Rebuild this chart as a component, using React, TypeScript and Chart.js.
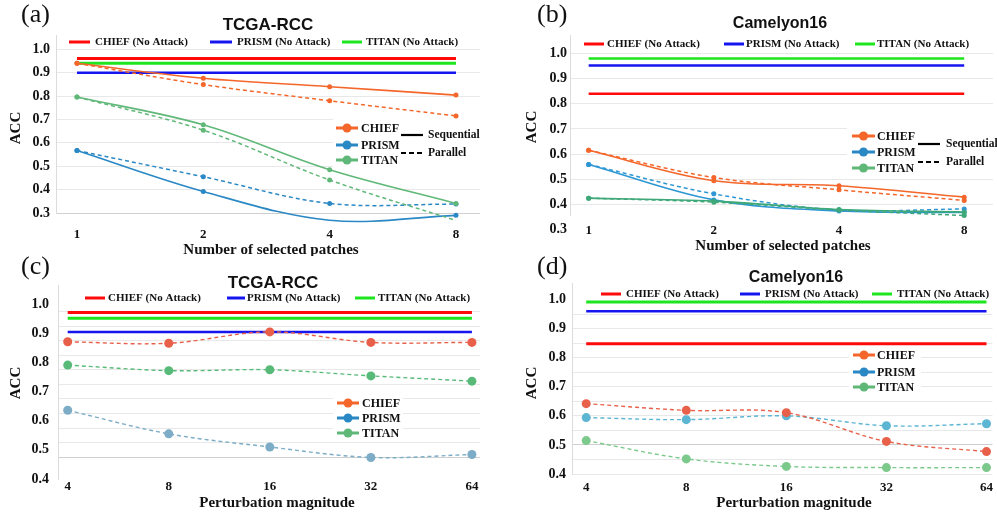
import React, { useEffect, useRef } from 'react';
import { Chart, registerables } from 'chart.js';

Chart.register(...registerables);

const SERIF = '"Liberation Serif", "Times New Roman", serif';
const SANS = '"Liberation Sans", Arial, sans-serif';

// ---------- categories / tick labels ----------
const patchCounts = ['1', '2', '4', '8'];
const perturbMagnitudes = ['4', '8', '16', '32', '64'];
const accLabelsTop = [0.3, 0.4, 0.5, 0.6, 0.7, 0.8, 0.9, 1.0];
const accLabelsBottom = [0.4, 0.5, 0.6, 0.7, 0.8, 0.9, 1.0];
const gridA = [0.3, 0.4, 0.5, 0.6, 0.7, 0.8, 0.9, 1.0];
const gridB = [0.4, 0.5, 0.6, 0.7, 0.8, 0.9, 1.0];
const gridC = [0.475, 0.525, 0.575, 0.625, 0.675, 0.725, 0.775, 0.825, 0.875, 0.925, 0.975];
const gridD = [0.4, 0.45, 0.5, 0.55, 0.6, 0.65, 0.7, 0.75, 0.8, 0.85, 0.9, 0.95];

// ---------- (a) TCGA-RCC, number of selected patches ----------
const rccCleanChief = 0.96;
const rccCleanPrism = 0.9;
const rccCleanTitan = 0.94;
const rccSeqChief = [0.94, 0.876, 0.84, 0.804];
const rccParChief = [0.94, 0.849, 0.78, 0.715];
const rccSeqPrism = [0.567, 0.392, 0.269, 0.29];
const rccParPrism = [0.567, 0.455, 0.341, 0.338];
const rccSeqTitan = [0.796, 0.677, 0.485, 0.341];
const rccParTitan = [0.796, 0.654, 0.441, 0.268];

// ---------- (b) Camelyon16, number of selected patches ----------
const camCleanChief = 0.84;
const camCleanPrism = 0.952;
const camCleanTitan = 0.98;
const camSeqChief = [0.615, 0.494, 0.474, 0.429];
const camParChief = [0.615, 0.507, 0.458, 0.416];
const camSeqPrism = [0.559, 0.418, 0.374, 0.368];
const camParPrism = [0.559, 0.442, 0.378, 0.382];
const camSeqTitan = [0.425, 0.413, 0.38, 0.37];
const camParTitan = [0.425, 0.409, 0.378, 0.356];

// ---------- (c) TCGA-RCC, perturbation magnitude ----------
const rccPertCleanChief = 0.972;
const rccPertCleanPrism = 0.905;
const rccPertCleanTitan = 0.952;
const rccPertChief = [0.871, 0.866, 0.905, 0.869, 0.869];
const rccPertPrism = [0.636, 0.555, 0.51, 0.474, 0.484];
const rccPertTitan = [0.791, 0.772, 0.775, 0.754, 0.736];

// ---------- (d) Camelyon16, perturbation magnitude ----------
const camPertCleanChief = 0.848;
const camPertCleanPrism = 0.96;
const camPertCleanTitan = 0.992;
const camPertChief = [0.642, 0.619, 0.611, 0.512, 0.477];
const camPertPrism = [0.594, 0.587, 0.6, 0.566, 0.573];
const camPertTitan = [0.515, 0.452, 0.426, 0.422, 0.422];

// ---------- colours ----------
const C_CHIEF = '#F4662A';
const C_PRISM = '#2A88C4';
const C_TITAN = '#60B878';
const C_RED = '#FF0A0A';
const C_BLUE = '#1515F0';
const C_GREEN = '#1EE61E';

type Series = { values: number[]; color: string; dashed: boolean; width: number; radius: number };
type Clean = { value: number; color: string; width: number };
type Decor = {
  tag: { text: string; x: number; y: number };
  title: { text: string; x: number; y: number; size: number };
  xTitle: { text: string; x: number; y: number };
  yTitle: { x: number; y: number };
  top: { y: number; items: { x1: number; x2: number; tx: number; color: string; text: string }[] };
  inset: { x1: number; x2: number; tx: number; rows: { y: number; text: string; color: string }[] };
  style?: { x1: number; x2: number; tx: number; ySeq: number; yPar: number };
  box: { x: number; y: number; w: number; h: number };
};
type Panel = {
  key: string; left: number; top: number; width: number; height: number;
  categories: string[]; xMin: number; xMax: number; yMin: number; yMax: number;
  yLabels: number[]; grid: number[]; darkGrid: number;
  series: Series[]; clean: Clean[];
  yAxisWidth: number; xAxisHeight: number; padRight: number; padTop: number;
  xTickPad: number; yTickPad: number; decor: Decor;
};

const near = (a: number, b: number) => Math.abs(a - b) < 1e-6;

function topItems(pos: number[][], values: string[]) {
  const colors = [C_RED, C_BLUE, C_GREEN];
  return pos.map((p, i) => ({ x1: p[0], x2: p[1], tx: p[2], color: colors[i], text: values[i] }));
}
const topTexts = ['CHIEF (No Attack)', 'PRISM (No Attack)', 'TITAN (No Attack)'];
const insetRows = (ys: number[]) => [
  { y: ys[0], text: 'CHIEF', color: C_CHIEF },
  { y: ys[1], text: 'PRISM', color: C_PRISM },
  { y: ys[2], text: 'TITAN', color: C_TITAN },
];

const panels: Panel[] = [
  {
    key: 'a', left: 0, top: 0, width: 497, height: 256,
    categories: patchCounts, xMin: -0.166, xMax: 3.19, yMin: 0.3, yMax: 1.061,
    yLabels: accLabelsTop, grid: gridA, darkGrid: 0.3,
    series: [
      { values: rccSeqChief, color: C_CHIEF, dashed: false, width: 1.6, radius: 2.5 },
      { values: rccParChief, color: C_CHIEF, dashed: true, width: 1.5, radius: 2.5 },
      { values: rccSeqTitan, color: C_TITAN, dashed: false, width: 1.6, radius: 2.5 },
      { values: rccParTitan, color: C_TITAN, dashed: true, width: 1.5, radius: 2.5 },
      { values: rccSeqPrism, color: C_PRISM, dashed: false, width: 1.6, radius: 2.5 },
      { values: rccParPrism, color: C_PRISM, dashed: true, width: 1.5, radius: 2.5 },
    ],
    clean: [
      { value: rccCleanChief, color: C_RED, width: 3 },
      { value: rccCleanTitan, color: C_GREEN, width: 3 },
      { value: rccCleanPrism, color: C_BLUE, width: 2.5 },
    ],
    yAxisWidth: 56, xAxisHeight: 43, padRight: 17, padTop: 35, xTickPad: 6, yTickPad: 6,
    decor: {
      tag: { text: '(a)', x: 21, y: 15 },
      title: { text: 'TCGA-RCC', x: 268, y: 25, size: 17 },
      xTitle: { text: 'Number of selected patches', x: 271, y: 250 },
      yTitle: { x: 16, y: 128 },
      top: { y: 42, items: topItems([[69, 90, 95], [210, 232, 237], [342, 362, 366]], topTexts) },
      inset: { x1: 336, x2: 358, tx: 361, rows: insetRows([128, 145, 160]) },
      style: { x1: 401, x2: 423, tx: 428, ySeq: 135, yPar: 153 },
      box: { x: 333, y: 117, w: 147, h: 50 },
    },
  },
  {
    key: 'b', left: 497, top: 0, width: 500, height: 256,
    categories: patchCounts, xMin: -0.149, xMax: 3.23, yMin: 0.358, yMax: 1.073,
    yLabels: accLabelsTop, grid: gridB, darkGrid: -1,
    series: [
      { values: camSeqChief, color: C_CHIEF, dashed: false, width: 1.6, radius: 2.5 },
      { values: camParChief, color: C_CHIEF, dashed: true, width: 1.5, radius: 2.5 },
      { values: camSeqTitan, color: '#3FA878', dashed: false, width: 1.6, radius: 2.5 },
      { values: camParTitan, color: '#3FA878', dashed: true, width: 1.5, radius: 2.5 },
      { values: camSeqPrism, color: '#2C97D4', dashed: false, width: 1.6, radius: 2.5 },
      { values: camParPrism, color: '#2C97D4', dashed: true, width: 1.5, radius: 2.5 },
    ],
    clean: [
      { value: camCleanChief, color: C_RED, width: 2.5 },
      { value: camCleanTitan, color: C_GREEN, width: 2.5 },
      { value: camCleanPrism, color: C_BLUE, width: 2.5 },
    ],
    yAxisWidth: 73, xAxisHeight: 41, padRight: 1, padTop: 35, xTickPad: 0, yTickPad: 3,
    decor: {
      tag: { text: '(b)', x: 40, y: 15 },
      title: { text: 'Camelyon16', x: 283, y: 24, size: 16 },
      xTitle: { text: 'Number of selected patches', x: 286, y: 246 },
      yTitle: { x: 35, y: 127 },
      top: { y: 44, items: topItems([[87, 107, 110], [227, 247, 249], [358, 378, 380]], topTexts) },
      inset: { x1: 355, x2: 378, tx: 380, rows: insetRows([136, 152, 168]) },
      style: { x1: 421, x2: 443, tx: 449, ySeq: 144, yPar: 162 },
      box: { x: 350, y: 124, w: 150, h: 50 },
    },
  },
  {
    key: 'c', left: 0, top: 256, width: 497, height: 256,
    categories: perturbMagnitudes, xMin: -0.096, xMax: 4.08, yMin: 0.4, yMax: 1.066,
    yLabels: accLabelsBottom, grid: gridC, darkGrid: 0.475,
    series: [
      { values: rccPertChief, color: '#E8604A', dashed: true, width: 1.4, radius: 4.5 },
      { values: rccPertTitan, color: '#58BA78', dashed: true, width: 1.4, radius: 4.5 },
      { values: rccPertPrism, color: '#7CACC6', dashed: true, width: 1.4, radius: 4.5 },
    ],
    clean: [
      { value: rccPertCleanChief, color: C_RED, width: 3 },
      { value: rccPertCleanTitan, color: C_GREEN, width: 3 },
      { value: rccPertCleanPrism, color: C_BLUE, width: 2.5 },
    ],
    yAxisWidth: 58, xAxisHeight: 33, padRight: 17, padTop: 29, xTickPad: -8, yTickPad: 9,
    decor: {
      tag: { text: '(c)', x: 21, y: 11 },
      title: { text: 'TCGA-RCC', x: 273, y: 27, size: 17 },
      xTitle: { text: 'Perturbation magnitude', x: 277, y: 247 },
      yTitle: { x: 16, y: 127 },
      top: { y: 42, items: topItems([[85, 105, 108], [227, 245, 247], [355, 375, 378]], topTexts) },
      inset: { x1: 337, x2: 359, tx: 362, rows: insetRows([147, 162, 177]) },
      box: { x: 333, y: 136, w: 70, h: 50 },
    },
  },
  {
    key: 'd', left: 497, top: 256, width: 500, height: 256,
    categories: perturbMagnitudes, xMin: -0.142, xMax: 4.06, yMin: 0.4, yMax: 1.057,
    yLabels: accLabelsBottom, grid: gridD, darkGrid: 0.5,
    series: [
      { values: camPertChief, color: '#E8604A', dashed: true, width: 1.4, radius: 4.5 },
      { values: camPertPrism, color: '#5CB5D3', dashed: true, width: 1.4, radius: 4.5 },
      { values: camPertTitan, color: '#7CC98C', dashed: true, width: 1.4, radius: 4.5 },
    ],
    clean: [
      { value: camPertCleanChief, color: C_RED, width: 3 },
      { value: camPertCleanTitan, color: C_GREEN, width: 3 },
      { value: camPertCleanPrism, color: C_BLUE, width: 2.5 },
    ],
    yAxisWidth: 75, xAxisHeight: 38, padRight: 1, padTop: 27, xTickPad: -2, yTickPad: 6,
    decor: {
      tag: { text: '(d)', x: 40, y: 11 },
      title: { text: 'Camelyon16', x: 299, y: 22, size: 16 },
      xTitle: { text: 'Perturbation magnitude', x: 297, y: 247 },
      yTitle: { x: 35, y: 127 },
      top: { y: 38, items: topItems([[104, 124, 129], [243, 263, 268], [375, 395, 400]], topTexts) },
      inset: { x1: 356, x2: 378, tx: 380, rows: insetRows([99, 116, 131]) },
      box: { x: 352, y: 88, w: 72, h: 52 },
    },
  },
];

function text(ctx: CanvasRenderingContext2D, s: string, x: number, y: number, font: string, align: CanvasTextAlign = 'left') {
  ctx.save();
  ctx.font = font;
  ctx.fillStyle = '#111';
  ctx.textAlign = align;
  ctx.textBaseline = 'middle';
  ctx.fillText(s, x, y);
  ctx.restore();
}

function line(ctx: CanvasRenderingContext2D, x1: number, x2: number, y: number, color: string, w: number, dash: number[] = []) {
  ctx.save();
  ctx.strokeStyle = color;
  ctx.lineWidth = w;
  ctx.setLineDash(dash);
  ctx.beginPath();
  ctx.moveTo(x1, y);
  ctx.lineTo(x2, y);
  ctx.stroke();
  ctx.restore();
}

function decorPlugin(d: Decor) {
  return {
    id: 'decor',
    beforeDatasetsDraw(chart: any) {
      const ctx = chart.ctx as CanvasRenderingContext2D;
      ctx.save();
      ctx.fillStyle = '#ffffff';
      ctx.fillRect(d.box.x, d.box.y, d.box.w, d.box.h);
      ctx.restore();
    },
    afterDraw(chart: any) {
      const ctx = chart.ctx as CanvasRenderingContext2D;
      text(ctx, d.tag.text, d.tag.x, d.tag.y, `26px ${SERIF}`);
      text(ctx, d.title.text, d.title.x, d.title.y, `bold ${d.title.size}px ${SANS}`, 'center');
      text(ctx, d.xTitle.text, d.xTitle.x, d.xTitle.y, `bold 15px ${SERIF}`, 'center');
      ctx.save();
      ctx.translate(d.yTitle.x, d.yTitle.y);
      ctx.rotate(-Math.PI / 2);
      text(ctx, 'ACC', 0, 0, `bold 15px ${SERIF}`, 'center');
      ctx.restore();
      for (const it of d.top.items) {
        line(ctx, it.x1, it.x2, d.top.y, it.color, 3);
        text(ctx, it.text, it.tx, d.top.y + 0.5, `bold 11px ${SERIF}`);
      }
      for (const r of d.inset.rows) {
        line(ctx, d.inset.x1, d.inset.x2, r.y, r.color, 3);
        ctx.save();
        ctx.fillStyle = r.color;
        ctx.beginPath();
        ctx.arc((d.inset.x1 + d.inset.x2) / 2, r.y, 4.5, 0, Math.PI * 2);
        ctx.fill();
        ctx.restore();
        text(ctx, r.text, d.inset.tx, r.y + 0.5, `bold 12px ${SERIF}`);
      }
      if (d.style) {
        line(ctx, d.style.x1, d.style.x2, d.style.ySeq, '#000', 2.2);
        line(ctx, d.style.x1, d.style.x2, d.style.yPar, '#000', 2.2, [5, 3]);
        text(ctx, 'Sequential', d.style.tx, d.style.ySeq + 0.5, `bold 11.5px ${SERIF}`);
        text(ctx, 'Parallel', d.style.tx, d.style.yPar + 0.5, `bold 11.5px ${SERIF}`);
      }
    },
  };
}

function PanelChart({ p }: { p: Panel }) {
  const ref = useRef<HTMLCanvasElement>(null);
  useEffect(() => {
    if (!ref.current) return;
    const n = p.categories.length;
    const tickValues = Array.from(new Set([...p.yLabels, ...p.grid].map((v) => Math.round(v * 1000) / 1000))).sort((a, b) => a - b);
    const datasets: any[] = [
      ...p.series.map((s) => ({
        data: s.values.map((y, i) => ({ x: i, y })),
        borderColor: s.color,
        backgroundColor: s.color,
        borderWidth: s.width,
        borderDash: s.dashed ? [4, 3] : [],
        pointRadius: s.radius,
        pointBackgroundColor: s.color,
        pointBorderColor: s.color,
        pointBorderWidth: 0,
        tension: 0.35,
        clip: false,
        fill: false,
      })),
      ...p.clean.map((c) => ({
        data: [{ x: 0, y: c.value }, { x: n - 1, y: c.value }],
        borderColor: c.color,
        backgroundColor: c.color,
        borderWidth: c.width,
        pointRadius: 0,
        tension: 0,
        clip: false,
        fill: false,
      })),
    ];
    const chart = new Chart(ref.current, {
      type: 'line',
      data: { datasets },
      plugins: [decorPlugin(p.decor) as any],
      options: {
        responsive: false,
        animation: false,
        devicePixelRatio: 1,
        events: [],
        layout: { padding: { left: 0, right: p.padRight, top: p.padTop, bottom: 0 } },
        plugins: { legend: { display: false }, title: { display: false }, tooltip: { enabled: false } },
        scales: {
          x: {
            type: 'linear',
            min: p.xMin,
            max: p.xMax,
            bounds: 'data',
            grid: { display: false },
            border: { display: false },
            afterBuildTicks: (s: any) => {
              s.ticks = p.categories.map((_, i) => ({ value: i }));
            },
            afterFit: (s: any) => {
              s.height = p.xAxisHeight;
            },
            ticks: {
              autoSkip: false,
              maxRotation: 0,
              padding: p.xTickPad,
              color: '#111',
              font: { family: SERIF, weight: 'bold', size: 13 },
              callback: (v: any) => p.categories[Math.round(Number(v))] ?? '',
            },
          },
          y: {
            type: 'linear',
            min: p.yMin,
            max: p.yMax,
            bounds: 'data',
            afterBuildTicks: (s: any) => {
              s.ticks = tickValues.map((v) => ({ value: v }));
            },
            afterFit: (s: any) => {
              s.width = p.yAxisWidth;
            },
            grid: {
              drawTicks: false,
              lineWidth: 1,
              color: (ctx: any) => {
                const v = ctx.tick ? ctx.tick.value : NaN;
                if (!p.grid.some((g) => near(g, v))) return 'rgba(0,0,0,0)';
                return near(v, p.darkGrid) ? '#cfcfcf' : '#e8e8e8';
              },
            },
            border: { display: true, color: '#dcdcdc', width: 1 },
            ticks: {
              autoSkip: false,
              padding: p.yTickPad,
              color: '#111',
              font: { family: SERIF, weight: 'bold', size: 14 },
              callback: (v: any) => (p.yLabels.some((l) => near(l, Number(v))) ? Number(v).toFixed(1) : ''),
            },
          },
        },
      } as any,
    });
    return () => chart.destroy();
  }, [p]);
  return (
    <div style={{ position: 'absolute', left: p.left, top: p.top, width: p.width, height: p.height }}>
      <canvas ref={ref} width={p.width} height={p.height} style={{ display: 'block', width: p.width, height: p.height }} />
    </div>
  );
}

export default function App() {
  return (
    <div style={{ position: 'absolute', left: 0, top: 0, width: 997, height: 512, background: '#ffffff', overflow: 'hidden' }}>
      {panels.map((p) => (
        <PanelChart key={p.key} p={p} />
      ))}
    </div>
  );
}
